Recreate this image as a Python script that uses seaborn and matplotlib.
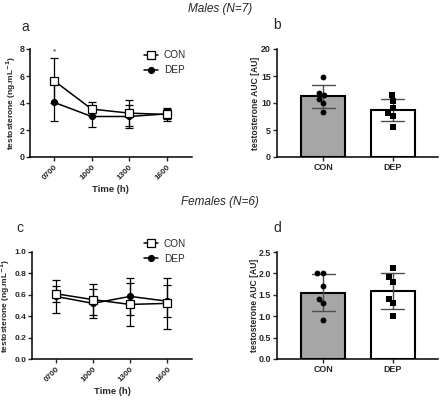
import numpy as np
import pandas as pd
import matplotlib
matplotlib.use("Agg")
import matplotlib.pyplot as plt
import seaborn as sns

# ---- data ----
times = ["0700", "1000", "1300", "1600"]
groups = ["CON", "DEP"]

males_con_mean = [5.65, 3.55, 3.25, 3.15]
males_con_sd = [1.65, 0.55, 0.95, 0.45]
males_dep_mean = [4.05, 3.0, 3.0, 3.2]
males_dep_sd = [1.35, 0.8, 0.85, 0.35]

females_con_mean = [0.61, 0.555, 0.51, 0.52]
females_con_sd = [0.075, 0.145, 0.2, 0.24]
females_dep_mean = [0.585, 0.52, 0.585, 0.54]
females_dep_sd = [0.155, 0.135, 0.17, 0.15]

males_auc_con = [14.9, 11.9, 11.4, 10.8, 10.0, 8.3]
males_auc_dep = [11.4, 10.4, 9.0, 8.1, 7.6, 5.6]
females_auc_con = [2.0, 2.0, 1.71, 1.4, 1.3, 0.9]
females_auc_dep = [2.12, 1.91, 1.81, 1.4, 1.3, 1.0]

sns.set_style("ticks")
plt.rcParams["font.family"] = ["Liberation Sans", "DejaVu Sans"]
plt.rcParams["mathtext.default"] = "regular"

fig = plt.figure(figsize=(4.4, 4.0), dpi=100)


def style_axes(ax):
    sns.despine(ax=ax)
    for s in ["left", "bottom"]:
        ax.spines[s].set_linewidth(1.1)
        ax.spines[s].set_color("black")
    ax.tick_params(axis="both", length=3, width=1.0, pad=1.5)


def time_panel(ax, con_m, con_sd, dep_m, dep_sd, ylim, yticks, fmt, ylab_x,
               leg_y, tick_fs):
    pos = np.arange(len(times))
    df = pd.DataFrame({
        "pos": np.concatenate([pos, pos]),
        "val": con_m + dep_m,
        "group": ["CON"] * len(times) + ["DEP"] * len(times),
    })
    ax.errorbar(pos, con_m, yerr=con_sd, fmt="none", ecolor="black",
                elinewidth=0.9, capsize=2.8, capthick=0.9, zorder=1)
    ax.errorbar(pos, dep_m, yerr=dep_sd, fmt="none", ecolor="black",
                elinewidth=0.9, capsize=2.8, capthick=0.9, zorder=1)
    sns.lineplot(data=df[df.group == "CON"], x="pos", y="val", ax=ax,
                 color="black", marker="s", markersize=5.2,
                 markerfacecolor="white", markeredgecolor="black",
                 markeredgewidth=0.9, linewidth=1.1, label="CON", zorder=3)
    sns.lineplot(data=df[df.group == "DEP"], x="pos", y="val", ax=ax,
                 color="black", marker="o", markersize=4.4,
                 markeredgecolor="black", linewidth=1.1, label="DEP", zorder=2)
    style_axes(ax)
    ax.set_xlim(-0.64, 3.66)
    ax.set_ylim(*ylim)
    ax.set_yticks(yticks)
    ax.set_yticklabels([fmt.format(v) for v in yticks], fontsize=tick_fs,
                       fontweight="bold")
    ax.tick_params(axis="y", pad=1.0)
    ax.set_xticks(pos)
    ax.set_xticklabels(times, rotation=45, ha="right", rotation_mode="anchor",
                       fontsize=5.8, fontweight="bold")
    ax.set_xlabel("Time (h)", fontsize=6.8, fontweight="bold", labelpad=3)
    ax.set_ylabel(r"testosterone (ng.mL$^{\mathbf{-1}}$)", fontsize=6.0,
                  fontweight="bold")
    ax.yaxis.set_label_coords(ylab_x, 0.5)
    ax.legend(loc="upper right", bbox_to_anchor=(1.02, leg_y), frameon=False,
              fontsize=7.2, handlelength=1.4, handletextpad=0.6,
              labelspacing=0.5)


def auc_panel(ax, con_vals, dep_vals, ylim, yticks, fmt, ylab_x):
    df = pd.DataFrame({
        "group": ["CON"] * len(con_vals) + ["DEP"] * len(dep_vals),
        "auc": con_vals + dep_vals,
    })
    sns.barplot(data=df, x="group", y="auc", order=groups, ax=ax,
                hue="group", palette={"CON": "#a6a6a6", "DEP": "white"},
                legend=False, errorbar="sd", width=0.63,
                edgecolor="black", linewidth=1.5, capsize=0.33,
                err_kws={"color": "#4d4d4d", "linewidth": 1.0})
    sns.swarmplot(data=df[df.group == "CON"], x="group", y="auc", order=groups,
                  ax=ax, color="black", marker="o", size=4.2, zorder=4)
    sns.swarmplot(data=df[df.group == "DEP"], x="group", y="auc", order=groups,
                  ax=ax, color="black", marker="s", size=4.0, zorder=4)
    style_axes(ax)
    ax.set_xlim(-0.657, 1.643)
    ax.set_ylim(*ylim)
    ax.set_yticks(yticks)
    ax.set_yticklabels([fmt.format(v) for v in yticks], fontsize=6.4,
                       fontweight="bold")
    ax.set_xticks(range(len(groups)))
    ax.set_xticklabels(groups, fontsize=6.4, fontweight="bold")
    ax.set_xlabel("")
    ax.set_ylabel("testosterone AUC [AU]", fontsize=6.2, fontweight="bold")
    ax.yaxis.set_label_coords(ylab_x, 0.5)


ax_a = fig.add_axes([0.068, 0.6075, 0.368, 0.27])
ax_b = fig.add_axes([0.63, 0.6075, 0.365, 0.27])
ax_c = fig.add_axes([0.0727, 0.1025, 0.3635, 0.2675])
ax_d = fig.add_axes([0.63, 0.1025, 0.365, 0.2675])

time_panel(ax_a, males_con_mean, males_con_sd, males_dep_mean, males_dep_sd,
           (0, 8), [0, 2, 4, 6, 8], "{:.0f}", -0.074, 1.07, 6.4)
ax_a.text(0, 7.55, "*", ha="center", va="bottom", fontsize=6)

time_panel(ax_c, females_con_mean, females_con_sd, females_dep_mean,
           females_dep_sd, (0, 1.0), [0, 0.2, 0.4, 0.6, 0.8, 1.0], "{:.1f}",
           -0.122, 1.21, 6.0)

auc_panel(ax_b, males_auc_con, males_auc_dep, (0, 20), [0, 5, 10, 15, 20],
          "{:.0f}", -0.106)
auc_panel(ax_d, females_auc_con, females_auc_dep, (0, 2.5),
          [0, 0.5, 1.0, 1.5, 2.0, 2.5], "{:.1f}", -0.112)

fig.text(0.5, 0.978, "Males (N=7)", ha="center", va="center",
         fontsize=8.5, style="italic")
fig.text(0.5, 0.495, "Females (N=6)", ha="center", va="center",
         fontsize=8.5, style="italic")

for letter, x, y in [("a", 0.057, 0.932), ("b", 0.63, 0.937),
                     ("c", 0.046, 0.43), ("d", 0.63, 0.43)]:
    fig.text(x, y, letter, ha="center", va="center", fontsize=10)

fig.savefig("out.png", dpi=100)
